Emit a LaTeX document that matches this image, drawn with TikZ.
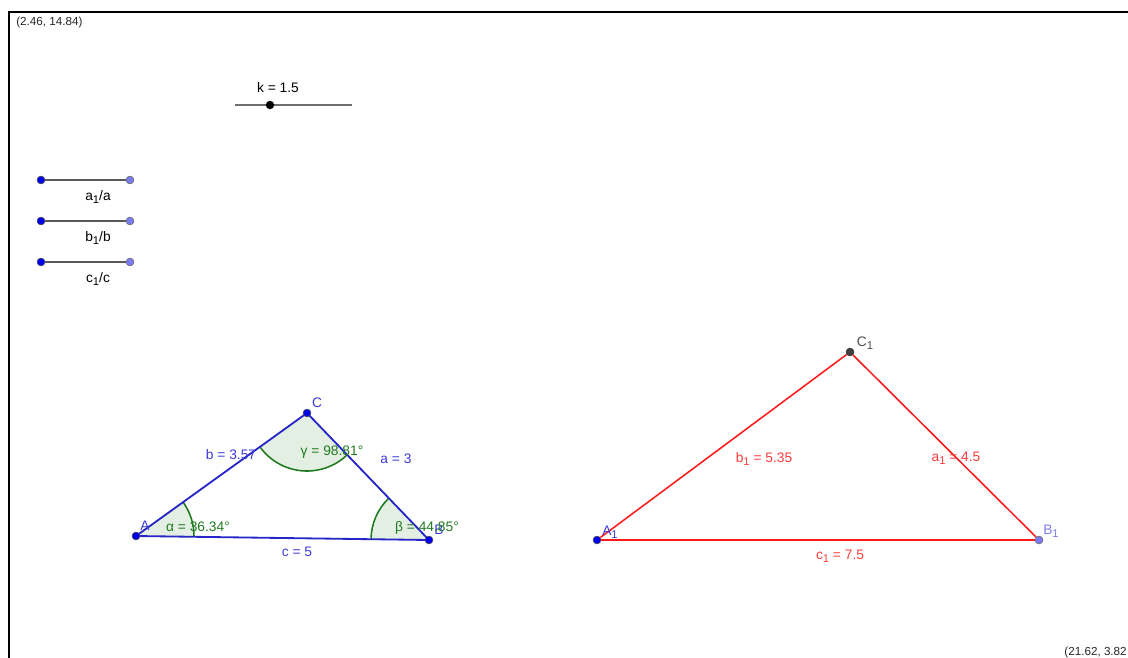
\documentclass[tikz,border=0pt]{standalone}
\usepackage{fontspec}
\setmainfont{Liberation Sans}
\usetikzlibrary{positioning,angles,calc}
\definecolor{sideblue}{HTML}{2626C8}
\definecolor{labblue}{HTML}{3A3ADB}
\definecolor{ptblue}{HTML}{0000EE}
\definecolor{ptlight}{HTML}{7C7CF2}
\definecolor{anggreen}{HTML}{1F7A1F}
\definecolor{redside}{HTML}{FF1A1A}
\definecolor{redlabel}{HTML}{FF3B3B}
\definecolor{barcolor}{HTML}{6E6E6E}
\newcommand\ggsub[1]{\raisebox{-0.45ex}{\fontsize{8}{9}\selectfont #1}}

\begin{document}
\begin{tikzpicture}[x=0.025cm, y=-0.025cm,
  font=\fontsize{9.8}{11}\selectfont,
  vertex/.style={circle, inner sep=0pt, minimum size=5.6pt, draw=black!70, line width=0.4pt, fill=ptblue},
  freept/.style={vertex, fill=ptlight, draw=black!60},
  darkpt/.style={vertex, fill=black!75, draw=black!80},
  knob/.style={circle, inner sep=0pt, minimum size=6pt, fill=black},
  sliderbar/.style={draw=barcolor, line width=1.3pt},
  segbar/.style={draw=black!65, line width=1pt},
  side/.style={draw=sideblue, line width=1.3pt},
  redseg/.style={draw=redside, line width=1.1pt},
  sector/.style={draw=anggreen, line width=1.1pt, fill=anggreen, fill opacity=0.12, angle radius=1.45cm},
  bluelab/.style={anchor=base, text=labblue},
  greenlab/.style={anchor=base, text=anggreen},
  redlab/.style={anchor=base, text=redlabel},
  corner/.style={inner sep=0pt, font=\fontsize{8.3}{10}\selectfont, text=black!85},
]
\useasboundingbox (0,0) rectangle (1128,657);

% Graphics view frame and corner coordinates
\draw[line width=1.4pt] (9,660) -- (9,12) -- (1131,12);
\node[corner, anchor=base west] (tl) at (16,26) {(2.46, 14.84)};
\node[corner, anchor=base east] (br) at (1127,655) {(21.62, 3.82};

% Slider k
\coordinate (kl) at (235,105);
\coordinate (kr) at (352,105);
\draw[sliderbar] (kl) -- (kr);
\node[knob] (k) at (270,105) {};
\node[anchor=base] (klab) at (278,93) {k = 1.5};

% Ratio segments
\foreach \s/\y in {a/180, b/221, c/262}{
  \node[vertex] (\s0) at (41,\y) {};
  \node[freept] (\s1) at (130,\y) {};
  \draw[segbar] (\s0) -- (\s1);
  \node[anchor=base] (\s lab) at (98,\y+20) {\s\ggsub{1}/\s};
}

% Triangle ABC
\coordinate (A) at (136,536);
\coordinate (B) at (429,540);
\coordinate (C) at (307,413);
\pic[sector] {angle=B--A--C};
\pic[sector] {angle=A--C--B};
\pic[sector] {angle=C--B--A};
\draw[side] (A) -- (B) -- (C) -- cycle;
\node[vertex] (pA) at (A) {};
\node[vertex] (pB) at (B) {};
\node[vertex] (pC) at (C) {};
\node[bluelab] (lA) at (145,530) {A};
\node[bluelab] (lB) at (439,534) {B};
\node[bluelab] (lC) at (317,407) {C};
\node[bluelab] (lb) at (231,459) {b = 3.57};
\node[bluelab] (la) at (396,463) {a = 3};
\node[bluelab] (lc) at (297,556) {c = 5};
\node[greenlab] (alpha) at (198,531) {α = 36.34°};
\node[greenlab] (beta) at (427,531) {β = 44.85°};
\node[greenlab] (gamma) at (332,455) {γ = 98.81°};

% Triangle A1B1C1, scaled by k
\node[vertex] (A1) at (597,540) {};
\node[freept] (B1) at (1039,540) {};
\node[darkpt] (C1) at (850,352) {};
\draw[redseg] (A1) -- (B1) -- (C1) -- (A1);
\node[bluelab] (lA1) at (610,535) {A\ggsub{1}};
\node[anchor=base, text=ptlight] (lB1) at (1051,534) {B\ggsub{1}};
\node[anchor=base, text=black!70] (lC1) at (865,346) {C\ggsub{1}};
\node[redlab] (lb1) at (764,462) {b\ggsub{1} = 5.35};
\node[redlab] (la1) at (956,461) {a\ggsub{1} = 4.5};
\node[redlab] (lc1) at (840,559) {c\ggsub{1} = 7.5};

\end{tikzpicture}
\end{document}
